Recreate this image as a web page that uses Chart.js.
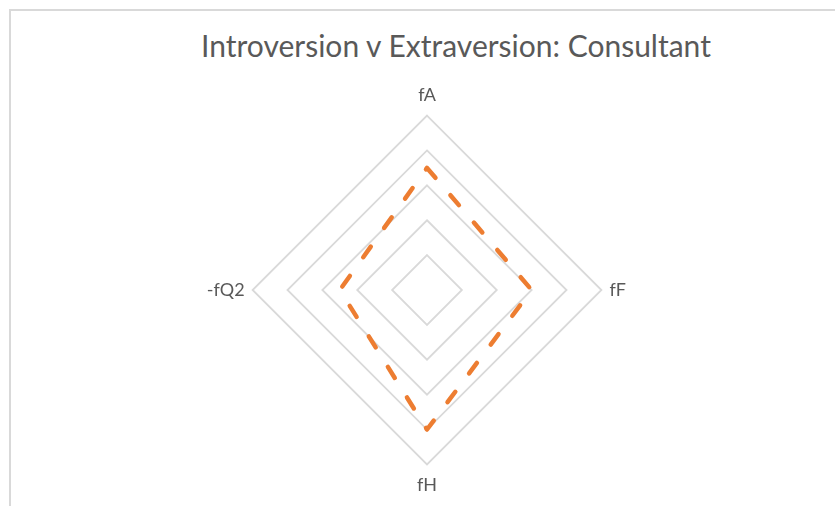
<!DOCTYPE html>
<html>
<head>
<meta charset="utf-8">
<script src="https://cdn.jsdelivr.net/npm/chart.js@4"></script>
<style>
  html, body { margin: 0; padding: 0; background: #fff; overflow: hidden; }
  #wrap { position: relative; width: 835px; height: 506px; }
  #frame {
    position: absolute; left: 9px; top: 9px; width: 900px; height: 600px;
    border-left: 2px solid #d9d9d9; border-top: 2px solid #d9d9d9;
  }
  #title {
    position: absolute; left: 56px; width: 800px; top: 30px;
    text-align: center; font-family: Lato, sans-serif; font-size: 30px;
    line-height: 30px; color: #595959; white-space: nowrap;
  }
  #chart { position: absolute; left: 0; top: 0; }
</style>
</head>
<body>
<div id="wrap">
  <div id="frame"></div>
  <div id="title">Introversion v Extraversion: Consultant</div>
  <canvas id="chart" width="835" height="506"></canvas>
</div>
<script>
'use strict';

// 坐标轴标签 / 数值
const axisLabels = ['fA', 'fF', 'fH', '-fQ2'];
const consultantValues = [3.5, 3, 4, 2.5];
const scaleMin = 0;
const scaleMax = 5;
const scaleStep = 1;

const ctx = document.getElementById('chart');

new Chart(ctx, {
    type: 'radar',
    data: {
        labels: axisLabels,
        datasets: [{
            label: 'Consultant',
            data: consultantValues,
            borderColor: '#ED7D31',
            backgroundColor: 'transparent',
            borderWidth: 4.5,
            borderDash: [13, 23],
            borderCapStyle: 'round',
            borderJoinStyle: 'round',
            fill: false,
            tension: 0,
            pointRadius: 0,
            pointHoverRadius: 0
        }]
    },
    options: {
        responsive: false,
        animation: false,
        layout: {
            padding: { left: 20, right: 0, top: 85, bottom: 9 }
        },
        plugins: {
            legend: { display: false },
            title: { display: false },
            tooltip: { enabled: false }
        },
        scales: {
            r: {
                min: scaleMin,
                max: scaleMax,
                ticks: { stepSize: scaleStep, display: false },
                grid: { circular: false, color: '#d9d9d9', lineWidth: 1.8 },
                angleLines: { display: false },
                pointLabels: {
                    color: '#595959',
                    font: { family: 'Lato', size: 18 },
                    padding: c => (c.index % 2 === 0 ? 10 : 8)
                }
            }
        }
    }
});
</script>
</body>
</html>
